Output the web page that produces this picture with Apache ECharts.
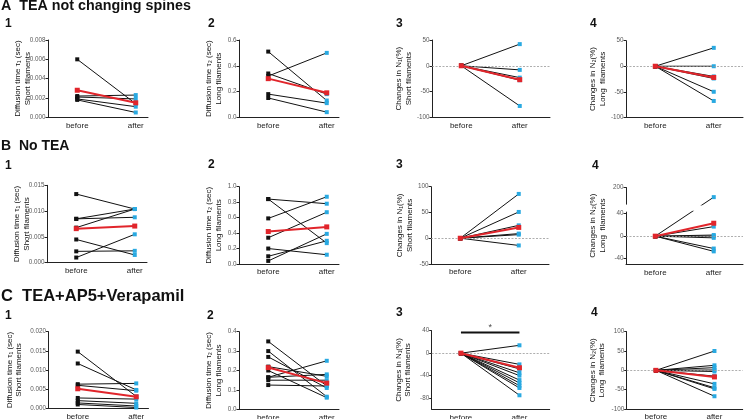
<!DOCTYPE html>
<html><head><meta charset="utf-8">
<script src="https://cdn.jsdelivr.net/npm/echarts@6/dist/echarts.min.js"></script>
<style>html,body{margin:0;padding:0;background:#fff}#c{width:745px;height:419px}</style>
</head><body><div id="c"></div>
<script>
// ---------- data ----------
const categories = ['before', 'after'];

// A: TEA not changing spines
const a1Before = [0.0060, 0.0022, 0.0021, 0.0019, 0.0018];
const a1After  = [0.0014, 0.0023, 0.0019, 0.0011, 0.0005];
const a1Mean   = [0.0028, 0.0015];
const a2Before = [0.51, 0.34, 0.32, 0.18, 0.15];
const a2After  = [0.13, 0.18, 0.50, 0.11, 0.04];
const a2Mean   = [0.30, 0.19];
const a3Before = [0, 0, 0, 0, 0];
const a3After  = [42, -8, -23, -28, -78];
const a3Mean   = [0, -27];
const a4Before = [0, 0, 0, 0, 0, 0];
const a4After  = [36, 0, -20, -24, -50, -68];
const a4Mean   = [0, -22];

// B: No TEA
const b1Before = [0.0133, 0.0085, 0.0085, 0.0068, 0.0045, 0.0022, 0.0010];
const b1After  = [0.0104, 0.0104, 0.0088, 0.0104, 0.0015, 0.0023, 0.0055];
const b1Mean   = [0.0066, 0.0071];
const b2Before = [0.84, 0.84, 0.59, 0.34, 0.20, 0.10, 0.04];
const b2After  = [0.78, 0.27, 0.87, 0.67, 0.12, 0.30, 0.39];
const b2Mean   = [0.42, 0.48];
const b3Before = [0, 0, 0, 0, 0, 0];
const b3After  = [86, 51, 25, 9, 7, -14];
const b3Mean   = [0, 21];
const b4Before = [0, 0, 0, 0, 0, 0, 0];
const b4After  = [182, 17, 2, 0, -3, -22, -27];
const b4Mean   = [0, 23];

// C: TEA+AP5+Verapamil
const c1Before = [0.0148, 0.0117, 0.0063, 0.0060, 0.0027, 0.0020, 0.0014, 0.0010];
const c1After  = [0.0031, 0.0048, 0.0065, 0.0046, 0.0024, 0.0013, 0.0006, 0.0002];
const c1Mean   = [0.0051, 0.0030];
const c2Before = [0.35, 0.30, 0.27, 0.22, 0.20, 0.165, 0.165, 0.15, 0.125];
const c2After  = [0.12, 0.065, 0.11, 0.17, 0.06, 0.25, 0.18, 0.15, 0.12];
const c2Mean   = [0.215, 0.135];
const c3Before = [0, 0, 0, 0, 0, 0, 0, 0, 0, 0];
const c3After  = [14, -20, -28, -35, -40, -48, -53, -58, -62, -75];
const c3Mean   = [0, -26];
const c3Signif = [37, 37];
const c4Before = [0, 0, 0, 0, 0, 0, 0, 0, 0, 0];
const c4After  = [50, 13, 7, 1, -3, -15, -35, -45, -48, -67];
const c4Mean   = [0, -17];

// tick labels
const tickTau1A = [0, 0.002, 0.004, 0.006, 0.008];
const tickTau2A = [0, 0.2, 0.4, 0.6];
const tickPctA  = [-100, -50, 0, 50];
const tickTau1B = [0, 0.005, 0.010, 0.015];
const tickTau2B = [0, 0.2, 0.4, 0.6, 0.8, 1.0];
const tickPctB3 = [-50, 0, 50, 100];
const tickPctB4 = [-40, 0, 40, 200];
const tickTau1C = [0, 0.005, 0.010, 0.015, 0.020];
const tickTau2C = [0, 0.1, 0.2, 0.3, 0.4];
const tickPctC3 = [-80, -40, 0, 40];
const tickPctC4 = [-100, -50, 0, 50, 100];

const sectionTitles = ['A  TEA not changing spines', 'B  No TEA', 'C  TEA+AP5+Verapamil'];
const panelNumbers = ['1', '2', '3', '4'];
const nameTau1 = 'Diffusion time \u03c4\u2081 (sec)\nShort filaments';
const nameTau2 = 'Diffusion time \u03c4\u2082 (sec)\nLong filaments';
const nameN1 = 'Changes in N\u2081(%)\nShort filaments';
const nameN2 = 'Changes in N\u2082(%)\nLong  filaments';

// ---------- layout / style ----------
const FONT = 'Liberation Sans, Arial, Helvetica, sans-serif';
const BLACK = '#111111', BLUE = '#29a9e1', RED = '#e1252b';
const PX_PER_UNIT = 58.5;

const panels = [
  {b:a1Before,a:a1After,m:a1Mean,min:0,max:0.008,ticks:tickTau1A,dec:3,name:nameTau1,g:[48,40,100,77.3],ng:16},
  {b:a2Before,a:a2After,m:a2Mean,min:0,max:0.6,ticks:tickTau2A,dec:1,name:nameTau2,g:[239,40,100,77.3],ng:16},
  {b:a3Before,a:a3After,m:a3Mean,min:-100,max:50,ticks:tickPctA,dec:0,name:nameN1,g:[432,40,118,77.3],ng:19,zero:true},
  {b:a4Before,a:a4After,m:a4Mean,min:-100,max:50,ticks:tickPctA,dec:0,name:nameN2,g:[626,40.7,117,76.6],ng:19,zero:true},
  {b:b1Before,a:b1After,m:b1Mean,min:0,max:0.015,ticks:tickTau1B,dec:3,name:nameTau1,g:[47,185.3,100,77.4],ng:16},
  {b:b2Before,a:b2After,m:b2Mean,min:0,max:1.0,ticks:tickTau2B,dec:1,name:nameTau2,g:[239,186.7,100,77.3],ng:16},
  {b:b3Before,a:b3After,m:b3Mean,min:-50,max:100,ticks:tickPctB3,dec:0,name:nameN1,g:[431,186.7,118,77.3],ng:17,zero:true},
  {b:b4Before,a:b4After,m:b4Mean,min:-50,max:200,ticks:tickPctB4,dec:0,name:nameN2,g:[626,187,117,77.3],ng:19,zero:true,
   breaks:[{start:45,end:170,gap:'9%'}]},
  {b:c1Before,a:c1After,m:c1Mean,min:0,max:0.020,ticks:tickTau1C,dec:3,name:nameTau1,g:[48.5,331.7,100,76.6],ng:25},
  {b:c2Before,a:c2After,m:c2Mean,min:0,max:0.4,ticks:tickTau2C,dec:1,name:nameTau2,g:[239,331.7,100,77.6],ng:16},
  {b:c3Before,a:c3After,m:c3Mean,min:-100,max:40,ticks:tickPctC3,dec:0,name:nameN1,g:[431.7,330.7,118,78.6],ng:19,zero:true,signif:c3Signif},
  {b:c4Before,a:c4After,m:c4Mean,min:-100,max:100,ticks:tickPctC4,dec:0,name:nameN2,g:[626.7,331.7,116,77.3],ng:20,zero:true}
];

const titlePos = [
  {t:sectionTitles[0], l:1, y:-0.5, fs:14.3, nums:[[5,17.5],[208,17.5],[396,17.5],[590,17.5]]},
  {t:sectionTitles[1], l:1, y:139.5, fs:14, nums:[[5,159.5],[208,158.5],[396,158.5],[592,159.5]]},
  {t:sectionTitles[2], l:1, y:288, fs:16.5, nums:[[5,310],[207,309.5],[396,307],[591,307]]}
];

const option = {
  backgroundColor: '#fff',
  animation: false,
  textStyle: {fontFamily: FONT},
  title: [], grid: [], xAxis: [], yAxis: [], series: []
};

titlePos.forEach(tp => {
  option.title.push({text: tp.t, left: tp.l, top: tp.y, padding: 0,
    textStyle: {fontFamily: FONT, fontSize: tp.fs, fontWeight: 'bold', color: '#111'}});
  tp.nums.forEach((p, k) => option.title.push({text: panelNumbers[k], left: p[0], top: p[1], padding: 0,
    textStyle: {fontFamily: FONT, fontSize: 12, fontWeight: 'bold', color: '#111'}}));
});

panels.forEach((p, i) => {
  const [l, t, w, h] = p.g;
  option.grid.push({left: l, top: t, width: w, height: h, containLabel: false, outerBoundsMode: 'none'});
  option.xAxis.push({
    type: 'value', gridIndex: i, min: 0.5, max: 0.5 + w / PX_PER_UNIT,
    splitLine: {show: false},
    axisLine: {onZero: false, lineStyle: {color: '#222', width: 1}},
    axisTick: {show: false},
    axisLabel: {customValues: [1, 2], formatter: v => categories[Math.round(v) - 1] || '',
      fontSize: 8, color: '#222', margin: 4, fontFamily: FONT}
  });
  const y = {
    type: 'value', gridIndex: i, min: p.min, max: p.max,
    splitLine: {show: false},
    axisLine: {show: true, onZero: false, lineStyle: {color: '#222', width: 1}},
    axisTick: {show: true, length: 2.5, customValues: p.ticks, lineStyle: {color: '#222'}},
    axisLabel: {customValues: p.ticks, formatter: v => v.toFixed(p.dec), fontSize: 6.3, color: '#5a5a5a', margin: 2.5, fontFamily: FONT},
    name: p.name, nameLocation: 'middle', nameRotate: 90, nameGap: p.ng, nameMoveOverlap: false,
    nameTextStyle: {fontSize: 8, lineHeight: 9.3, color: '#111', fontFamily: FONT}
  };
  if (p.breaks) {
    y.breaks = p.breaks;
    y.breakArea = {show: true, expandOnClick: false, zigzagAmplitude: 2, zigzagZ: 100,
      itemStyle: {color: '#fff', borderColor: '#fff', borderWidth: 0, opacity: 1}};
  }
  option.yAxis.push(y);

  if (p.zero) {
    option.series.push({
      type: 'line', xAxisIndex: i, yAxisIndex: i, data: [], z: 1, silent: true,
      markLine: {silent: true, symbol: 'none', label: {show: false},
        lineStyle: {type: [2, 1.5], color: '#999', width: 0.8}, data: [{yAxis: 0}]}
    });
  }
  p.b.forEach((bv, k) => {
    option.series.push({
      type: 'line', xAxisIndex: i, yAxisIndex: i, silent: true, z: 2,
      symbol: 'rect', symbolSize: 4, showSymbol: true,
      lineStyle: {color: BLACK, width: 1},
      data: [{value: [1, bv], itemStyle: {color: BLACK}}, {value: [2, p.a[k]], itemStyle: {color: BLUE}}]
    });
  });
  option.series.push({
    type: 'line', xAxisIndex: i, yAxisIndex: i, silent: true, z: 5,
    symbol: 'rect', symbolSize: 5,
    lineStyle: {color: RED, width: 2}, itemStyle: {color: RED},
    data: [[1, p.m[0]], [2, p.m[1]]]
  });
  if (p.signif) {
    option.series.push({
      type: 'line', xAxisIndex: i, yAxisIndex: i, silent: true, z: 5, symbol: 'none',
      lineStyle: {color: '#111', width: 2}, data: [[1, p.signif[0]], [2, p.signif[1]]]
    });
    option.series.push({
      type: 'scatter', xAxisIndex: i, yAxisIndex: i, silent: true, symbolSize: 0,
      label: {show: true, formatter: '*', position: 'top', distance: 0, fontSize: 9, color: '#111'},
      data: [[1.5, p.signif[0]]]
    });
  }
});

const chart = echarts.init(document.getElementById('c'), null, {renderer: 'canvas'});
chart.setOption(option);
</script></body></html>
